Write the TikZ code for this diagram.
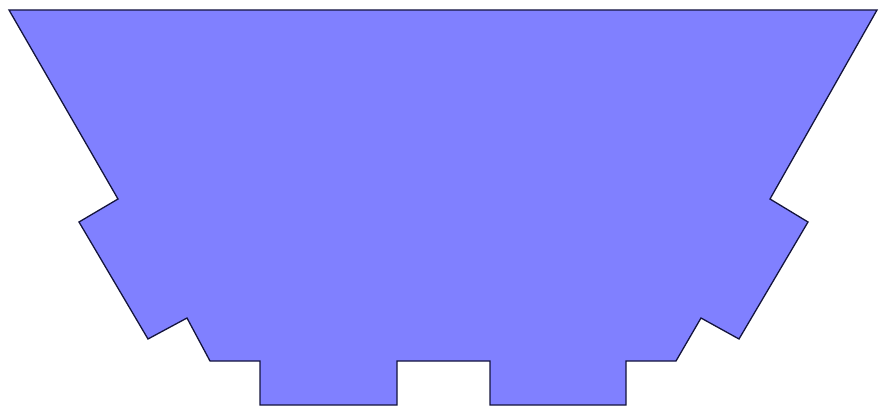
\documentclass[tikz,border=0pt]{standalone}
\begin{document}
\begin{tikzpicture}[x=1pt,y=-1pt,
  shapefill/.style={fill={rgb,255:red,128;green,128;blue,255},draw={rgb,255:red,20;green,20;blue,60},line width=1.3pt,line join=miter}]
\useasboundingbox (0,0) rectangle (879,409);
\draw[shapefill] (9,10) -- (877,10) -- (770,199) -- (808,222) -- (739,339) -- (701,318) -- (676,361) -- (626,361) -- (626,405) -- (490,405) -- (490,361) -- (397,361) -- (397,405) -- (260,405) -- (260,361) -- (210,361) -- (187,318) -- (148,339) -- (79,222) -- (118,199) -- cycle;
\end{tikzpicture}
\end{document}
